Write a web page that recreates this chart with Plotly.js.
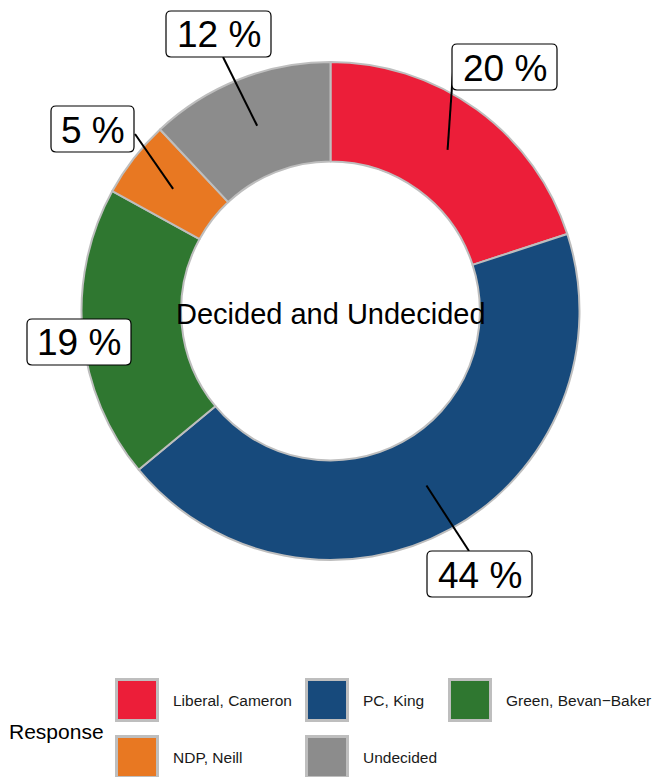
<!DOCTYPE html>
<html>
<head>
<meta charset="utf-8">
<script src="https://cdn.plot.ly/plotly-3.0.1.min.js"></script>
<style>html,body{margin:0;padding:0;background:#fff;}#chart{width:655px;height:777px;}</style>
</head>
<body>
<div id="chart"></div>
<script>
// ---- data ----
const categories = ['Liberal, Cameron', 'PC, King', 'Green, Bevan\u2212Baker', 'NDP, Neill', 'Undecided'];
const values = [20, 44, 19, 5, 12];
const colors = ['#EC1E39', '#174A7C', '#2F7730', '#E87822', '#8C8C8C'];
const centerTitle = 'Decided and Undecided';
const legendTitle = 'Response';

// ---- layout helpers (pixels) ----
const W = 655, H = 777;
const CX = 330.5, CY = 311, R = 249, HOLE = 0.6;
const FONT = 'Liberation Sans, Arial, Helvetica, sans-serif';
const X = px => px / W;
const Y = py => 1 - py / H;

// label boxes: center, size, leader-line end (pixels)
const labelBoxes = [
  {cx: 504.5, cy: 67,  w: 105, h: 46, ex: 453, ey: 72},
  {cx: 479.5, cy: 574, w: 105, h: 46, ex: 469, ey: 551},
  {cx: 79,    cy: 342, w: 104, h: 46, ex: null, ey: null},
  {cx: 92.5,  cy: 129, w: 83,  h: 46, ex: 135, ey: 134},
  {cx: 218.5, cy: 34,  w: 105, h: 46, ex: 223, ey: 57}
];
// legend cells (pixels)
const legendCols = [115, 305, 448];
const legendRows = [700, 757];
const keySize = 44;

function rrect(x0, y0, x1, y1, r) {
  const p = (x, y) => X(x) + ',' + Y(y);
  return 'M' + p(x0 + r, y0) + ' L' + p(x1 - r, y0) + ' Q' + p(x1, y0) + ' ' + p(x1, y0 + r) +
         ' L' + p(x1, y1 - r) + ' Q' + p(x1, y1) + ' ' + p(x1 - r, y1) +
         ' L' + p(x0 + r, y1) + ' Q' + p(x0, y1) + ' ' + p(x0, y1 - r) +
         ' L' + p(x0, y0 + r) + ' Q' + p(x0, y0) + ' ' + p(x0 + r, y0) + ' Z';
}

const total = values.reduce((a, b) => a + b, 0);
const shapes = [];
const annotations = [];
let cum = 0;
const rMid = R * (1 + HOLE) / 2;
values.forEach((v, i) => {
  const midFrac = (cum + v / 2) / total;
  cum += v;
  const ang = midFrac * 2 * Math.PI;
  const sx = CX + rMid * Math.sin(ang);
  const sy = CY - rMid * Math.cos(ang);
  const b = labelBoxes[i];
  if (b.ex !== null) {
    shapes.push({type: 'line', xref: 'paper', yref: 'paper', layer: 'above',
      x0: X(sx), y0: Y(sy), x1: X(b.ex), y1: Y(b.ey),
      line: {color: '#000', width: 2}});
  }
});
labelBoxes.forEach((b, i) => {
  shapes.push({type: 'path', xref: 'paper', yref: 'paper', layer: 'above',
    path: rrect(b.cx - b.w / 2, b.cy - b.h / 2, b.cx + b.w / 2, b.cy + b.h / 2, 5),
    fillcolor: '#fff', line: {color: '#000', width: 1.2}});
  annotations.push({xref: 'paper', yref: 'paper', x: X(b.cx), y: Y(b.cy + 1),
    text: Math.round(values[i] / total * 100) + ' %', showarrow: false,
    xanchor: 'center', yanchor: 'middle', font: {family: FONT, size: 37, color: '#000'}});
});

annotations.push({xref: 'paper', yref: 'paper', x: X(CX), y: Y(314), text: centerTitle,
  showarrow: false, xanchor: 'center', yanchor: 'middle',
  font: {family: FONT, size: 29, color: '#000'}});

// legend
annotations.push({xref: 'paper', yref: 'paper', x: X(7), y: Y(731), text: legendTitle,
  showarrow: false, xanchor: 'left', yanchor: 'middle',
  font: {family: FONT, size: 21, color: '#000'}});
categories.forEach((c, i) => {
  const col = i % 3, row = Math.floor(i / 3);
  const kx = legendCols[col], ky = legendRows[row];
  shapes.push({type: 'rect', xref: 'paper', yref: 'paper', layer: 'above',
    x0: X(kx + 1.5), x1: X(kx + keySize - 1.5),
    y0: Y(ky - keySize / 2 + 1.5), y1: Y(ky + keySize / 2 - 1.5),
    fillcolor: colors[i], line: {color: '#BEBEBE', width: 3}});
  annotations.push({xref: 'paper', yref: 'paper', x: X(kx + keySize + 12), y: Y(ky),
    text: c, showarrow: false, xanchor: 'left', yanchor: 'middle',
    font: {family: FONT, size: 15.5, color: '#1A1A1A'}});
});

const trace = {
  type: 'pie',
  labels: categories,
  values: values,
  sort: false,
  direction: 'clockwise',
  rotation: 0,
  hole: HOLE,
  textinfo: 'none',
  hoverinfo: 'none',
  showlegend: false,
  marker: {colors: colors, line: {color: '#BEBEBE', width: 2}},
  domain: {x: [X(CX - R), X(CX + R)], y: [Y(CY + R), Y(CY - R)]}
};

Plotly.newPlot('chart', [trace], {
  width: W, height: H,
  margin: {l: 0, r: 0, t: 0, b: 0},
  paper_bgcolor: '#fff',
  showlegend: false,
  shapes: shapes,
  annotations: annotations
}, {staticPlot: true});
</script>
</body>
</html>
